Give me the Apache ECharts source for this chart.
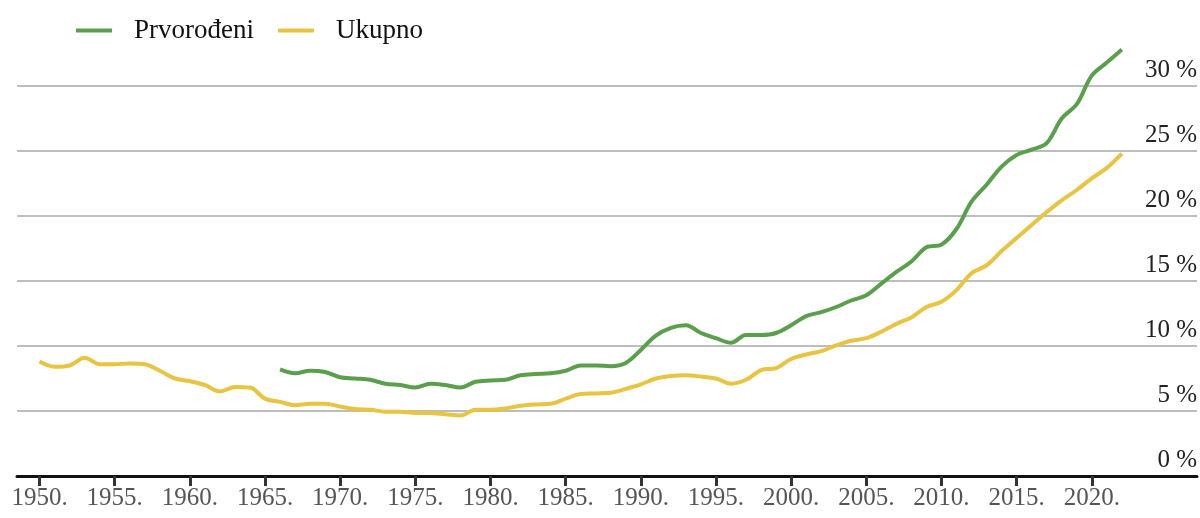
<!DOCTYPE html>
<html>
<head>
<meta charset="utf-8">
<script src="https://cdn.jsdelivr.net/npm/echarts@6/dist/echarts.min.js"></script>
<style>
  html, body { margin: 0; padding: 0; background: #fff; }
  #chart { width: 1200px; height: 518px; }
</style>
</head>
<body>
<div id="chart"></div>
<script>
// Share of births to mothers aged 35 and over, per year
const totalYears = [];
for (let y = 1950; y <= 2022; y++) totalYears.push(y);
const totalValues = [
  8.8, 8.4, 8.5, 9.1, 8.6, 8.6, 8.65, 8.6, 8.1, 7.5,
  7.3, 7.0, 6.5, 6.85, 6.8, 5.95, 5.7, 5.45, 5.55, 5.55,
  5.35, 5.15, 5.1, 4.95, 4.95, 4.85, 4.85, 4.75, 4.65, 5.1,
  5.1, 5.2, 5.4, 5.5, 5.55, 5.95, 6.3, 6.35, 6.4, 6.7,
  7.05, 7.5, 7.7, 7.75, 7.65, 7.5, 7.1, 7.4, 8.15, 8.3,
  9.0, 9.35, 9.6, 10.05, 10.4, 10.6, 11.1, 11.7, 12.2, 13.0,
  13.4, 14.3, 15.6, 16.2, 17.3, 18.3, 19.3, 20.3, 21.2, 22.0,
  22.9, 23.7, 24.8
];

const firstbornYears = [];
for (let y = 1966; y <= 2022; y++) firstbornYears.push(y);
const firstbornValues = [
  8.2, 7.9, 8.1, 8.0,
  7.6, 7.5, 7.4, 7.1, 7.0, 6.8, 7.1, 7.0, 6.8, 7.25,
  7.35, 7.4, 7.75, 7.85, 7.9, 8.1, 8.5, 8.5, 8.45, 8.7,
  9.7, 10.8, 11.4, 11.6, 11.0, 10.6, 10.25, 10.85, 10.85, 11.0,
  11.6, 12.3, 12.6, 13.0, 13.5, 13.9, 14.8, 15.7, 16.5, 17.6,
  17.8, 19.0, 21.1, 22.4, 23.8, 24.7, 25.1, 25.6, 27.5, 28.6,
  30.8, 31.8, 32.8
];

const tickYears = [1950, 1955, 1960, 1965, 1970, 1975, 1980, 1985, 1990, 1995, 2000, 2005, 2010, 2015, 2020];
const seriesNames = ['Prvorođeni', 'Ukupno'];

const FONT = '"Liberation Serif", "DejaVu Serif", serif';
const GREEN = '#5a9f4c';
const YELLOW = '#e8c440';

const pairs = (xs, vs) => xs.map((x, i) => [x, vs[i]]);

const chart = echarts.init(document.getElementById('chart'), null, { renderer: 'canvas' });
chart.setOption({
  animation: false,
  backgroundColor: '#ffffff',
  grid: { left: 17, right: 3, top: 86, bottom: 42, containLabel: false },
  legend: {
    left: 71,
    top: 12,
    icon: 'rect',
    itemWidth: 36,
    itemHeight: 4,
    itemGap: 24,
    data: seriesNames,
    textStyle: { fontFamily: FONT, fontSize: 27, color: '#111', padding: [0, 0, 0, 17] }
  },
  xAxis: {
    type: 'value',
    min: 1948.5,
    max: 2027,
    splitLine: { show: false },
    axisLine: { show: true, onZero: false, lineStyle: { color: '#111', width: 3 } },
    axisTick: {
      show: true,
      customValues: tickYears,
      length: 10,
      lineStyle: { color: '#333', width: 3 }
    },
    axisLabel: {
      customValues: tickYears,
      margin: 10,
      fontFamily: FONT,
      fontSize: 25,
      color: '#555',
      formatter: v => v + '.'
    }
  },
  yAxis: {
    type: 'value',
    position: 'right',
    min: 0,
    max: 30,
    interval: 5,
    axisLine: { show: false },
    axisTick: { show: false },
    splitLine: { show: true, lineStyle: { color: '#bdbdbd', width: 2 } },
    axisLabel: {
      inside: true,
      margin: 0,
      verticalAlign: 'bottom',
      padding: [0, 0, 3, 0],
      fontFamily: FONT,
      fontSize: 25,
      color: '#222',
      formatter: '{value} %'
    }
  },
  series: [
    {
      name: seriesNames[0],
      type: 'line',
      data: pairs(firstbornYears, firstbornValues),
      smooth: 0.35,
      showSymbol: false,
      clip: false,
      color: GREEN,
      lineStyle: { color: GREEN, width: 4 },
      z: 3
    },
    {
      name: seriesNames[1],
      type: 'line',
      data: pairs(totalYears, totalValues),
      smooth: 0.35,
      showSymbol: false,
      clip: false,
      color: YELLOW,
      lineStyle: { color: YELLOW, width: 4 },
      z: 2
    }
  ]
});
</script>
</body>
</html>
